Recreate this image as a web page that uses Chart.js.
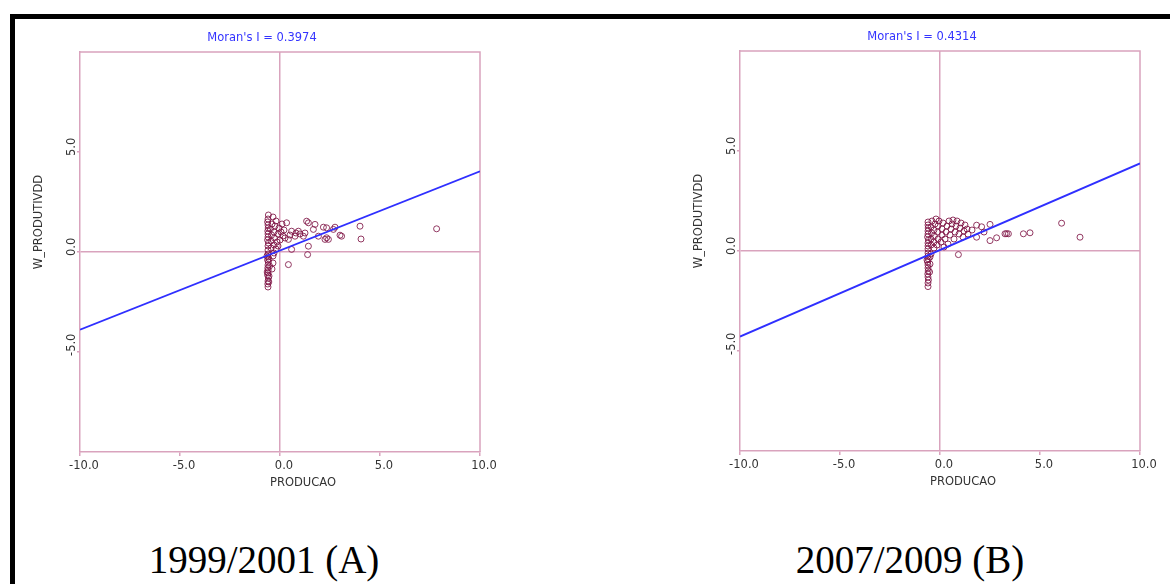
<!DOCTYPE html>
<html>
<head>
<meta charset="utf-8">
<script src="https://cdn.jsdelivr.net/npm/chart.js@4.4.1/dist/chart.umd.min.js"></script>
<style>
  body { margin: 0; width: 1170px; height: 584px; background: #fff; position: relative; overflow: hidden; }
  .frame { position: absolute; left: 10px; top: 14px; width: 1200px; height: 620px; border-top: 5px solid #000; border-left: 5px solid #000; }
  canvas { position: absolute; top: 0; }
  #chartA { left: 20px; }
  #chartB { left: 680px; }
  .caption { position: absolute; top: 540px; width: 400px; text-align: center; font-family: 'Liberation Serif', 'Times New Roman', serif; font-size: 39px; line-height: 39px; color: #000; }
  #capA { left: 64px; }
  #capB { left: 710px; }
</style>
</head>
<body>
<div class="frame"></div>
<canvas id="chartA" width="484" height="500"></canvas>
<canvas id="chartB" width="484" height="500"></canvas>
<div class="caption" id="capA"></div>
<div class="caption" id="capB"></div>
<script>
const xTickValues = [-10, -5, 0, 5, 10];
const yTickValues = [-5, 0, 5];
const xTitle = 'PRODUCAO';
const yTitle = 'W_PRODUTIVDD';
const titles = ["Moran's I = 0.3974", "Moran's I = 0.4314"];
const captions = ['1999/2001 (A)', '2007/2009 (B)'];

// 1999/2001 (A)
const aX = [-0.60, -0.60, -0.62, -0.58, -0.60, -0.61, -0.59, -0.60, -0.62, -0.58, -0.60, -0.61, -0.60,
  -0.55, -0.52, -0.55, -0.35, -0.35, -0.40, -0.30, -0.65, -0.64, -0.56,
  -0.60, -0.60, -0.58, -0.62, -0.60, -0.60, -0.61, -0.59, -0.60, -0.62, -0.60, -0.58,
  -0.45, -0.45, -0.42, -0.48, -0.40, -0.30, -0.28, -0.30, -0.25, -0.20, -0.35,
  -0.15, -0.10, -0.05, 0.00, 0.05, 0.10, 0.15, 0.20, 0.25, 0.33, -0.20, -0.10,
  0.42, 0.42, 0.58, 0.58, 0.75, 0.92, 1.17, 1.33, 1.42, 1.42, 1.38, 1.67, 1.75, 1.92,
  2.17, 2.25, 2.33, 2.33, 2.42, 2.67, 2.75, 3.00, 3.08, 4.00, 4.05, 7.83, 0.80, 1.00, 1.25, 0.50];
const aY = [-0.10, -0.25, -0.40, -0.50, -0.65, -0.80, -0.90, -1.05, -1.15, -1.30, -1.45, -1.60, -1.75,
  -0.35, -0.70, -1.20, -0.20, -0.55, -0.85, -0.05, -0.20, -1.00, -1.50,
  0.10, 0.30, 0.45, 0.60, 0.75, 0.90, 1.05, 1.20, 1.35, 1.50, 1.65, 1.85,
  0.20, 0.55, 0.85, 1.15, 1.40, 0.35, 0.70, 1.00, 1.30, 1.55, 1.75,
  0.50, 0.90, 1.20, 0.60, 1.00, 1.40, 0.80, 1.10, 0.70, 1.46, 0.15, 0.30,
  -0.63, 0.63, 1.04, 0.13, 0.79, 1.04, 0.79, 1.54, 1.46, 0.29, -0.13, 1.13, 1.38, 0.79,
  1.24, 0.63, 0.71, 1.21, 0.63, 1.13, 1.24, 0.84, 0.79, 1.29, 0.65, 1.16, 0.95, 0.90, 0.95, 0.85];
const aLineX = [-10, 10];
const aLineY = [-3.88, 4.03];

// 2007/2009 (B)
const bX = [-0.60, -0.60, -0.58, -0.62, -0.60, -0.60, -0.59, -0.61, -0.60, -0.58, -0.60, -0.60,
  -0.50, -0.50, -0.52, -0.45, -0.65,
  -0.60, -0.60, -0.60, -0.58, -0.62, -0.60, -0.60, -0.59, -0.60, -0.60,
  -0.45, -0.45, -0.42, -0.45, -0.40, -0.30, -0.30, -0.28, -0.30, -0.25,
  -0.15, -0.10, -0.12, -0.10, -0.05, 0.05, 0.10, 0.10, 0.15,
  0.25, 0.30, 0.35, 0.45, 0.50, 0.55, 0.60, 0.70, 0.75, 0.80, 0.85,
  0.95, 1.00, 1.05, 1.15, 1.20, 1.25, 1.35, 1.40, 0.20, 0.40, -0.20, 0.65,
  0.92, 1.83, 2.08, 2.50, 1.83, 2.50, 2.83, 3.33, 3.25, 3.42, 4.17, 4.50, 6.08, 7.00, 1.60, 2.20];
const bY = [-0.10, -0.25, -0.40, -0.55, -0.70, -0.85, -1.00, -1.15, -1.30, -1.45, -1.60, -1.78,
  -0.30, -0.65, -1.05, -0.15, -0.45,
  0.10, 0.25, 0.40, 0.55, 0.70, 0.85, 1.00, 1.15, 1.30, 1.45,
  0.30, 0.60, 0.90, 1.20, 1.50, 0.15, 0.45, 0.75, 1.05, 1.35,
  0.30, 0.60, 0.95, 1.25, 1.50, 0.45, 0.80, 1.10, 1.40,
  0.60, 0.95, 1.25, 1.50, 0.80, 1.10, 1.35, 0.60, 0.95, 1.25, 1.50,
  0.85, 1.15, 1.40, 0.70, 1.00, 1.30, 1.10, 0.85, 0.20, 0.35, 1.60, 1.55,
  -0.18, 1.29, 1.21, 1.33, 0.69, 0.52, 0.66, 0.87, 0.86, 0.86, 0.86, 0.91, 1.39, 0.69, 1.05, 0.95];
const bLineX = [-10, 10];
const bLineY = [-4.28, 4.38];

const PINK = '#d9a3bd';
const FONT = { family: 'DejaVu Sans', size: 11.5 };
const FONT_CSS = '11.5px "DejaVu Sans"';

// frame edges on top/right plus the texts GeoDa puts around the plot
const moranText = {
    id: 'moranText',
    beforeDatasetsDraw(chart) {
        const { ctx, chartArea: a } = chart;
        ctx.save();
        ctx.strokeStyle = PINK;
        ctx.lineWidth = 1.5;
        ctx.beginPath();
        ctx.moveTo(a.left, a.top);
        ctx.lineTo(a.right, a.top);
        ctx.lineTo(a.right, a.bottom);
        ctx.stroke();
        ctx.restore();
    },
    afterDraw(chart, args, opts) {
        const { ctx, chartArea: a, scales: { y } } = chart;
        const midX = (a.left + a.right) / 2;
        const midY = (a.top + a.bottom) / 2;
        ctx.save();
        ctx.font = FONT_CSS;
        ctx.textBaseline = 'middle';
        ctx.textAlign = 'center';
        ctx.fillStyle = '#3434ff';
        ctx.fillText(opts.title, midX - 18, a.top - 14);
        ctx.fillStyle = '#333';
        ctx.fillText(xTitle, midX + 23, a.bottom + 31);

        yTickValues.forEach(v => {
            const py = y.getPixelForValue(v);
            ctx.save();
            ctx.translate(a.left - 8, py + 4);
            ctx.rotate(-Math.PI / 2);
            ctx.textAlign = 'left';
            ctx.fillText(v.toFixed(1), 0, 0);
            ctx.restore();
        });

        ctx.translate(a.left - 41, midY - 30);
        ctx.rotate(-Math.PI / 2);
        ctx.textAlign = 'center';
        ctx.fillText(yTitle, 0, 0);
        ctx.restore();
    }
};

function makeChart(id, xs, ys, lineX, lineY, title, padTop, padBottom) {
    const points = xs.map((x, i) => ({ x: x, y: ys[i] }));
    const line = lineX.map((x, i) => ({ x: x, y: lineY[i] }));

    new Chart(document.getElementById(id), {
        type: 'scatter',
        data: {
            datasets: [
                {
                    data: line,
                    showLine: true,
                    borderColor: '#2f2fff',
                    borderWidth: 1.8,
                    pointRadius: 0
                },
                {
                    data: points,
                    pointRadius: 3,
                    pointBorderWidth: 1,
                    borderColor: 'rgba(128, 24, 72, 0.85)',
                    backgroundColor: 'transparent'
                }
            ]
        },
        options: {
            responsive: false,
            animation: false,
            layout: { padding: { top: padTop, right: 24, bottom: padBottom, left: 0 } },
            plugins: {
                legend: { display: false },
                tooltip: { enabled: false },
                moranText: { title: title }
            },
            scales: {
                x: {
                    min: -10,
                    max: 10,
                    afterBuildTicks: s => { s.ticks = xTickValues.map(v => ({ value: v })); },
                    afterFit: s => { s.height = 45; },
                    grid: {
                        color: c => c.tick.value === 0 ? PINK : 'transparent',
                        lineWidth: 1.5,
                        tickColor: PINK,
                        tickLength: 4
                    },
                    border: { color: PINK, width: 1.5 },
                    ticks: {
                        callback: v => v.toFixed(1),
                        labelOffset: 4,
                        padding: 3,
                        maxRotation: 0,
                        autoSkip: false,
                        font: FONT,
                        color: '#333'
                    }
                },
                y: {
                    min: -10,
                    max: 10,
                    afterBuildTicks: s => { s.ticks = yTickValues.map(v => ({ value: v })); },
                    afterFit: s => { s.width = 60; },
                    grid: {
                        color: c => c.tick.value === 0 ? PINK : 'transparent',
                        lineWidth: 1.5,
                        tickColor: PINK,
                        tickLength: 3
                    },
                    border: { color: PINK, width: 1.5 },
                    ticks: { display: false }
                }
            }
        },
        plugins: [moranText]
    });
}

makeChart('chartA', aX, aY, aLineX, aLineY, titles[0], 52, 3);
makeChart('chartB', bX, bY, bLineX, bLineY, titles[1], 51, 4);

document.getElementById('capA').textContent = captions[0];
document.getElementById('capB').textContent = captions[1];
</script>
</body>
</html>
